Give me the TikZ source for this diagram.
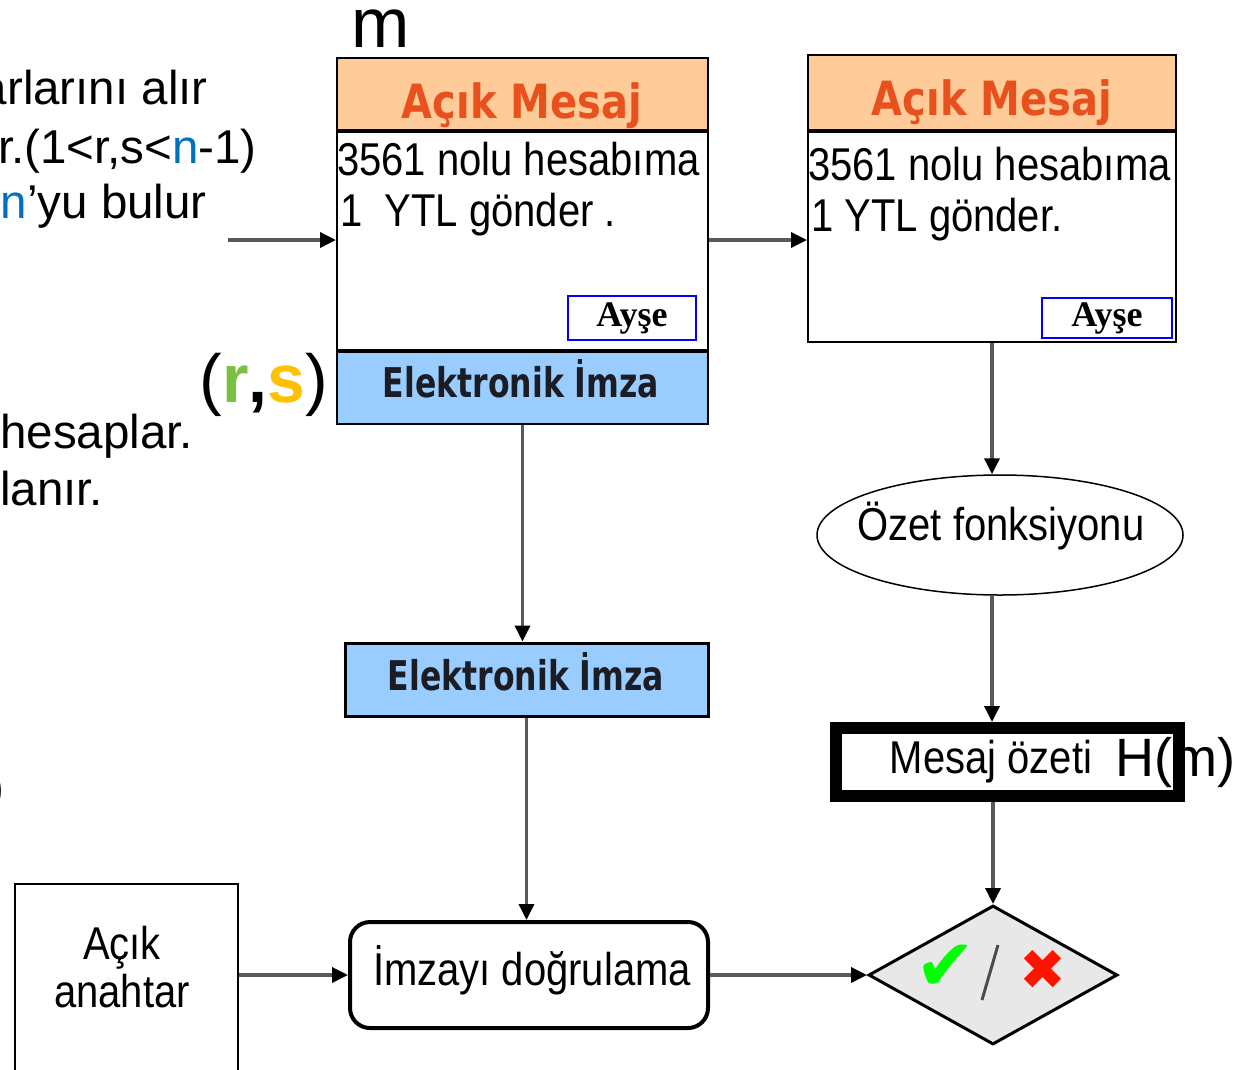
\documentclass[tikz,border=0pt]{standalone}
\usepackage{fontspec}
\usepackage{graphicx}
\setmainfont{Liberation Sans}
\newfontfamily\vfont{DejaVu Sans}
\newfontfamily\oldfont{Liberation Serif}
\usetikzlibrary{arrows.meta,positioning,calc,shapes.geometric}
\definecolor{Peach}{HTML}{FFCC99}
\definecolor{Rust}{HTML}{E8501E}
\definecolor{Sky}{HTML}{99CCFF}
\definecolor{Ink}{HTML}{1C1C24}
\definecolor{Blue}{HTML}{0070C0}
\definecolor{Leaf}{HTML}{7AC143}
\definecolor{Gold}{HTML}{FFC000}
\definecolor{Pale}{HTML}{E8E8E8}
\newcommand{\tall}[2][1.2]{\scalebox{1}[#1]{#2}}

\begin{document}
\begin{tikzpicture}[x=1pt,y=-1pt,
    panel/.style={draw=black,line width=2pt,inner sep=0pt},
    conn/.style={draw=black!65,line width=3.5pt,-{Triangle[length=16pt,width=15pt,color=black]}},
    slide/.style={font=\fontsize{47.5}{50}\selectfont,inner sep=0pt,anchor=base east},
    body/.style={font=\fontsize{40}{44}\selectfont,inner sep=0pt,anchor=base west},
    head/.style={font=\vfont\bfseries\fontsize{40}{44}\selectfont,text=Rust,inner sep=0pt,anchor=base},
    sig/.style={font=\vfont\bfseries\fontsize{31.5}{36}\selectfont,text=Ink,inner sep=0pt,anchor=base}]
  \useasboundingbox (0,0) rectangle (1247,1069);
  \clip (0,0) rectangle (1247,1069);

  % text of the slide, cut at the left edge
  \node[slide] (t1) at (208,104) {arlarını alır};
  \node[slide] (t2) at (257,163) {r.(1<r,s<\textcolor{Blue}{n}-1)};
  \node[slide] (t3) at (207,218) {\textcolor{Blue}{n}’yu bulur};
  \node[slide,anchor=base west] (t4) at (0,448) {hesaplar.};
  \node[slide,anchor=base west] (t5) at (0,505) {lanır.};
  \node[slide] (t6) at (5,803) {)};
  \node[font=\fontsize{70}{70}\selectfont,inner sep=0pt,anchor=base] (mlbl) at (381,47) {m};
  \node[font=\fontsize{68}{70}\selectfont,inner sep=0pt,anchor=base] (rslbl) at (264,402)
    {(\textbf{\textcolor{Leaf}{r},\textcolor{Gold}{s}})};

  % signed message
  \node[panel,fill=Peach,minimum width=371pt,minimum height=72pt] (headA) at (522.5,94) {};
  \node[panel,fill=white,minimum width=371pt,minimum height=218pt,below=0pt of headA] (bodyA) {};
  \node[panel,fill=Sky,minimum width=371pt,minimum height=72pt,below=0pt of bodyA] (sigA) {};
  \node[head] (headAtxt) at (522,118) {\tall[1.18]{Açık Mesaj}};
  \node[body] (lineA1) at (337,175) {\tall[1.15]{3561 nolu hesabıma}};
  \node[body] (lineA2) at (340,226) {\tall[1.15]{1\ \ YTL gönder .}};
  \node[draw=blue,line width=2.5pt,minimum width=128pt,minimum height=44pt,inner sep=0pt,
        font=\oldfont\bfseries\fontsize{36}{38}\selectfont] (aysA) at (632,318) {Ayşe};
  \node[sig] (sigAtxt) at (521,397) {\tall[1.3]{Elektronik İmza}};

  % received message
  \node[panel,fill=Peach,minimum width=368pt,minimum height=75pt] (headB) at (992,92.5) {};
  \node[panel,fill=white,minimum width=368pt,minimum height=210pt,below=0pt of headB] (bodyB) {};
  \node[head] (headBtxt) at (992,115) {\tall[1.18]{Açık Mesaj}};
  \node[body] (lineB1) at (808,180) {\tall[1.15]{3561 nolu hesabıma}};
  \node[body] (lineB2) at (811,231) {\tall[1.15]{1 YTL gönder.}};
  \node[draw=blue,line width=2.5pt,minimum width=130pt,minimum height=40pt,inner sep=0pt,
        font=\oldfont\bfseries\fontsize{36}{38}\selectfont] (aysB) at (1107,318) {Ayşe};

  % hash side
  \node[ellipse,draw=black,line width=1.5pt,minimum width=366pt,minimum height=120pt,inner sep=0pt] (ozet) at (1000,535) {};
  \node[body,anchor=base] (ozettxt) at (1001,540) {\tall[1.15]{Özet fonksiyonu}};
  \node[draw=black,line width=12pt,minimum width=343pt,minimum height=68pt,inner sep=0pt] (ozeti) at (1007.5,762) {};
  \node[body,anchor=base] (ozetitxt) at (991,773) {\tall[1.15]{Mesaj özeti}};
  \node[font=\fontsize{54}{56}\selectfont,inner sep=0pt,anchor=base west] (hm) at (1115,776) {H(m)};
  \node[diamond,draw=black,line width=3pt,fill=Pale,minimum width=249pt,minimum height=139pt,inner sep=0pt] (check) at (993,975) {};
  \node[font=\vfont\fontsize{72}{72}\selectfont,text=green,inner sep=0pt] (yes) at (946,968) {✔};
  \node[font=\vfont\fontsize{56}{56}\selectfont,text=red!85!orange,inner sep=0pt] (no) at (1043,970) {✖};
  \draw[black!70,line width=3pt] (998,945) -- (982,1000);

  % verification side
  \node[panel,fill=Sky,line width=3pt,minimum width=363pt,minimum height=73pt] (sigB) at (526.5,679.5) {};
  \node[sig] (sigBtxt) at (526,690) {\tall[1.3]{Elektronik İmza}};
  \node[draw=black,line width=4pt,rounded corners=20pt,minimum width=358pt,minimum height=106pt,inner sep=0pt] (verify) at (529,975) {};
  \node[body,anchor=base] (verifytxt) at (532,985) {\tall[1.15]{İmzayı doğrulama}};
  \node[panel,minimum width=223pt,minimum height=200pt] (key) at (126.5,984) {};
  \node[body,anchor=center,align=center] (keytxt) at (122,967) {\tall[1.15]{Açık}\\[4pt]\tall[1.15]{anahtar}};

  % connectors
  \coordinate (inlet) at (228,240);
  \draw[conn] (inlet) -- (inlet -| bodyA.west);
  \draw[conn] (bodyA.east |- inlet) -- (inlet -| bodyB.west);
  \draw[conn] (bodyB.south) -- (bodyB.south |- ozet.north);
  \draw[conn] (bodyB.south |- ozet.south) -- (bodyB.south |- ozeti.north);
  \draw[conn] (check.north |- ozeti.south) -- (check.north);
  \draw[conn] (sigA.south) -- (sigA.south |- sigB.north);
  \draw[conn] (sigB.south) -- (sigB.south |- verify.north);
  \draw[conn] (key.east |- verify.west) -- (verify.west);
  \draw[conn] (verify.east) -- (check.west);
\end{tikzpicture}
\end{document}
